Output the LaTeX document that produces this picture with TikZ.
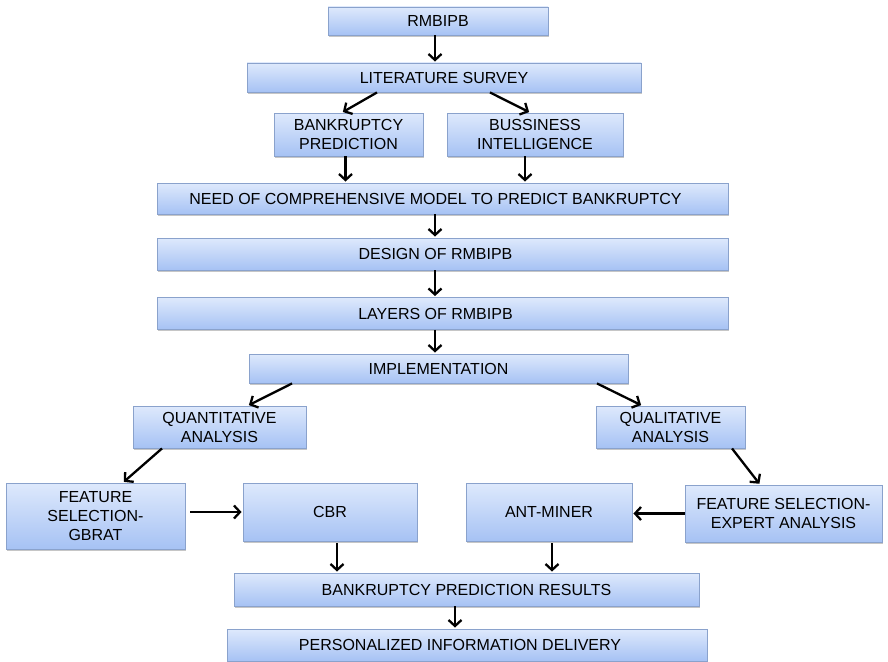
\documentclass[tikz,border=0pt]{standalone}
\usepackage{fontspec}
\setmainfont{Liberation Sans}
\usetikzlibrary{arrows.meta,shadows,calc}
\definecolor{boxtop}{RGB}{222,233,252}
\definecolor{boxbot}{RGB}{166,194,244}
\definecolor{boxline}{RGB}{138,162,204}
\tikzset{
  fbox/.style={draw=boxline, line width=0.9pt, top color=boxtop, bottom color=boxbot,
    inner sep=0pt, align=center, font=\fontsize{16}{19}\selectfont,
    drop shadow={shadow xshift=1.2pt, shadow yshift=-1.8pt, fill=black!50, opacity=0.45}},
  arr/.style={line width=2.3pt, -{Straight Barb[length=6pt,width=13pt,line width=2.3pt]}, shorten >=1pt}
}
\begin{document}
\begin{tikzpicture}[x=1pt,y=-1pt]
\useasboundingbox (0,0) rectangle (888,661);
\node[fbox, minimum width=220, minimum height=28] (rm) at (438,21) {RMBIPB};
\node[fbox, minimum width=394, minimum height=29] (lit) at (444,77.5) {LITERATURE SURVEY};
\node[fbox, minimum width=149, minimum height=43] (bp) at (348.5,134.5) {BANKRUPTCY\\PREDICTION};
\node[fbox, minimum width=176, minimum height=43] (bi) at (535,134.5) {BUSSINESS\\INTELLIGENCE};
\node[fbox, minimum width=571, minimum height=31] (need) at (442.5,198.5) {NEED OF COMPREHENSIVE MODEL TO PREDICT BANKRUPTCY\hspace*{14pt}};
\node[fbox, minimum width=571, minimum height=32] (design) at (442.5,254) {DESIGN OF RMBIPB\hspace*{14pt}};
\node[fbox, minimum width=571, minimum height=32] (layers) at (442.5,313.5) {LAYERS OF RMBIPB\hspace*{14pt}};
\node[fbox, minimum width=379, minimum height=29] (impl) at (438.5,368.5) {IMPLEMENTATION};
\node[fbox, minimum width=173, minimum height=42] (quant) at (219.5,427) {QUANTITATIVE\\ANALYSIS};
\node[fbox, minimum width=149, minimum height=42] (qual) at (670.5,427) {QUALITATIVE\\ANALYSIS};
\node[fbox, minimum width=179, minimum height=66] (fsg) at (95.5,516) {FEATURE\\SELECTION-\\GBRAT};
\node[fbox, minimum width=174, minimum height=58] (cbr) at (330,512) {CBR};
\node[fbox, minimum width=166, minimum height=58] (ant) at (549,512) {ANT-MINER};
\node[fbox, minimum width=197, minimum height=57] (fse) at (783.5,513.5) {FEATURE SELECTION-\\EXPERT ANALYSIS};
\node[fbox, minimum width=465, minimum height=33] (bpr) at (466.5,589.5) {BANKRUPTCY PREDICTION RESULTS};
\node[fbox, minimum width=480, minimum height=32] (pers) at (467,645) {\hspace*{-14pt}PERSONALIZED INFORMATION DELIVERY};

\draw[arr] ([xshift=-3pt]rm.south) -- ([xshift=-3pt]rm.south |- lit.north);
\draw[arr] ([xshift=-67pt]lit.south) -- ([xshift=-6.5pt]bp.north);
\draw[arr] ([xshift=46pt]lit.south) -- ([xshift=-5pt]bi.north);
\draw[arr] ([xshift=-3pt]bp.south) -- ([xshift=-3pt]bp.south |- need.north);
\draw[arr] ([xshift=-10pt]bi.south) -- ([xshift=-10pt]bi.south |- need.north);
\draw[arr] ([xshift=-7.5pt]need.south) -- ([xshift=-7.5pt]need.south |- design.north);
\draw[arr] ([xshift=-7.5pt]design.south) -- ([xshift=-7.5pt]design.south |- layers.north);
\draw[arr] ([xshift=-7.5pt]layers.south) -- ([xshift=-7.5pt]layers.south |- impl.north);
\draw[arr] ([xshift=-146.5pt]impl.south) -- ([xshift=28.5pt]quant.north);
\draw[arr] ([xshift=158.5pt]impl.south) -- ([xshift=-28.5pt]qual.north);
\draw[arr] ([xshift=-57.5pt]quant.south) -- ([xshift=27.5pt]fsg.north);
\draw[arr] ([xshift=61.5pt]qual.south) -- ([xshift=-23.5pt]fse.north);
\draw[arr] ([xshift=5pt,yshift=4pt]fsg.east) -- ([yshift=4pt]fsg.east -| cbr.west);
\draw[arr] (fse.west) -- (fse.west -| ant.east);
\draw[arr] ([xshift=7pt,yshift=-2pt]cbr.south) -- ([xshift=7pt]cbr.south |- bpr.north);
\draw[arr] ([xshift=3pt,yshift=-2pt]ant.south) -- ([xshift=3pt]ant.south |- bpr.north);
\draw[arr] ([xshift=-11.5pt]bpr.south) -- ([xshift=-11.5pt]bpr.south |- pers.north);
\end{tikzpicture}
\end{document}
